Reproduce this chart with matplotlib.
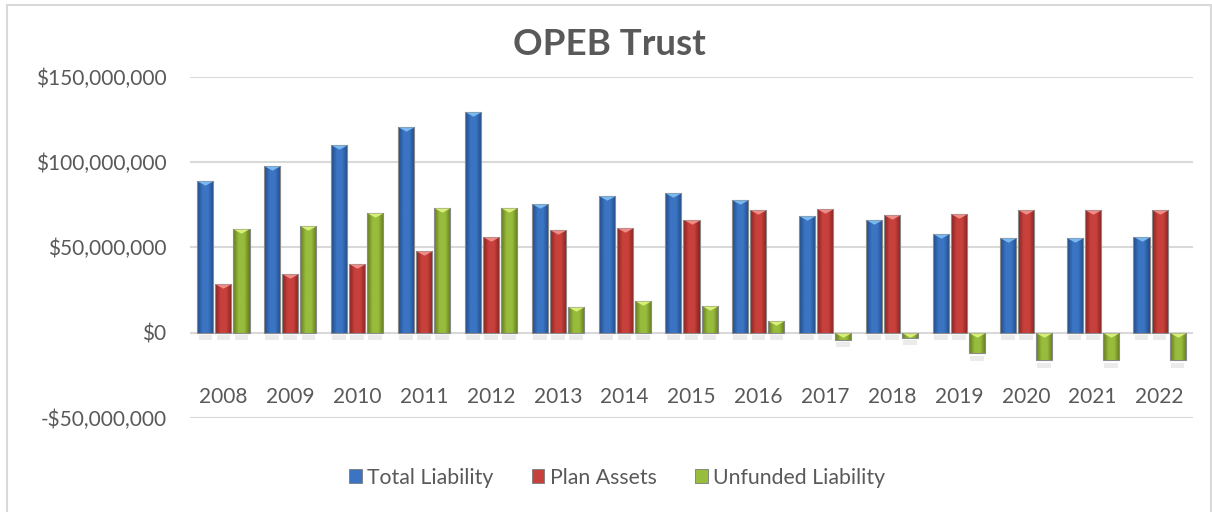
import numpy as np
import matplotlib
matplotlib.use("Agg")
import matplotlib.pyplot as plt
from matplotlib.colors import LinearSegmentedColormap
from matplotlib.patches import Rectangle, Patch
from matplotlib.ticker import FuncFormatter

plt.rcParams['font.family'] = ['Lato', 'DejaVu Sans']

years = [str(y) for y in range(2008, 2023)]
# values in millions of dollars
total_liability = [89.1, 97.8, 110.0, 120.6, 129.4, 75.6, 80.0, 81.9, 78.0, 68.3, 66.0, 57.8, 55.6, 55.6, 56.2]
plan_assets = [28.4, 34.4, 40.1, 48.0, 56.2, 60.0, 61.4, 66.3, 71.8, 72.3, 69.0, 69.8, 71.8, 71.8, 72.0]
unfunded_liability = [60.5, 62.8, 70.2, 73.3, 73.3, 14.8, 18.3, 15.4, 6.6, -4.0, -3.0, -12.0, -16.3, -16.3, -16.0]

series = [
    ("Total Liability", total_liability, "#1f4a88", "#3b74c2", "#7ab8f0"),
    ("Plan Assets", plan_assets, "#84221f", "#c8403c", "#f08c88"),
    ("Unfunded Liability", unfunded_liability, "#627a1e", "#98bc3c", "#d8f07a"),
]

grey = "#595959"
fig = plt.figure(figsize=(12.12, 5.12), dpi=100)
ax = fig.add_axes([190 / 1212, 94 / 512, 1003 / 1212, 341.3 / 512])

x = np.arange(len(years))
width = 0.24
step = 0.27
grad = np.linspace(0, 1, 64).reshape(1, -1)
tri = [(-1, 0), (1, 0), (0, -0.55)]

for i, (name, vals, dark, mid, light) in enumerate(series):
    vals = np.array(vals) * 1e6
    pos = x + (i - 1) * step
    bars = ax.bar(pos, vals, width, color=mid, zorder=3)
    cmap = LinearSegmentedColormap.from_list(name, [dark, mid, mid, dark])
    for b in bars:
        bx, by, bw, bh = b.get_x(), b.get_y(), b.get_width(), b.get_height()
        im = ax.imshow(grad, cmap=cmap, extent=[bx, bx + bw, by, by + bh],
                       aspect='auto', zorder=3.1, interpolation='bilinear')
        im.set_clip_path(b)
    ax.bar(pos, vals, width, facecolor='none', edgecolor='#8a8a8a', linewidth=0.8, zorder=3.2)
    # soft shadow under the base of each bar
    ax.bar(pos, -3e6, width * 0.85, bottom=np.minimum(vals, 0) - 1.5e6,
           color='#7f7f7f', alpha=0.15, zorder=2, linewidth=0)
    # bevel triangle on top
    ax.plot(pos, np.maximum(vals, 0), linestyle='none', marker=tri, markersize=11,
            color=light, markeredgewidth=0, zorder=3.3)

ax.set_xlim(-0.5, len(years) - 0.5)
ax.set_ylim(-50e6, 150e6)
ax.set_yticks(np.arange(-50e6, 150e6 + 1, 50e6))
ax.yaxis.set_major_formatter(FuncFormatter(
    lambda v, p: ("-$" if v < 0 else "$") + f"{abs(v):,.0f}"))
ax.set_xticks(x)
ax.set_xticklabels(years)
ax.grid(axis='y', color='#d9d9d9', linewidth=1.5, zorder=0)
ax.set_axisbelow(True)
for s in ax.spines.values():
    s.set_visible(False)
ax.tick_params(axis='both', length=0, colors=grey, labelsize=15)
ax.tick_params(axis='y', pad=17)
ax.tick_params(axis='x', pad=-22)

fig.text(0.503, 0.914, "OPEB Trust", ha='center', va='center', fontsize=26.5,
         fontweight='bold', color=grey)

handles = [Patch(facecolor=s[3], edgecolor='#7a7a7a', linewidth=0.6) for s in series]
fig.legend(handles, [s[0] for s in series], loc='center', bbox_to_anchor=(0.509, 0.067),
           ncol=3, frameon=False, fontsize=15.3, labelcolor=grey, handlelength=0.6,
           handleheight=0.6, handletextpad=0.25, columnspacing=1.8)

fig.patches.append(Rectangle((7 / 1212, -0.02), 1203.5 / 1212, 1.02 - 5 / 512,
                             transform=fig.transFigure, fill=False,
                             edgecolor='#d9d9d9', linewidth=1.5))

fig.savefig("out.png", dpi=100)
